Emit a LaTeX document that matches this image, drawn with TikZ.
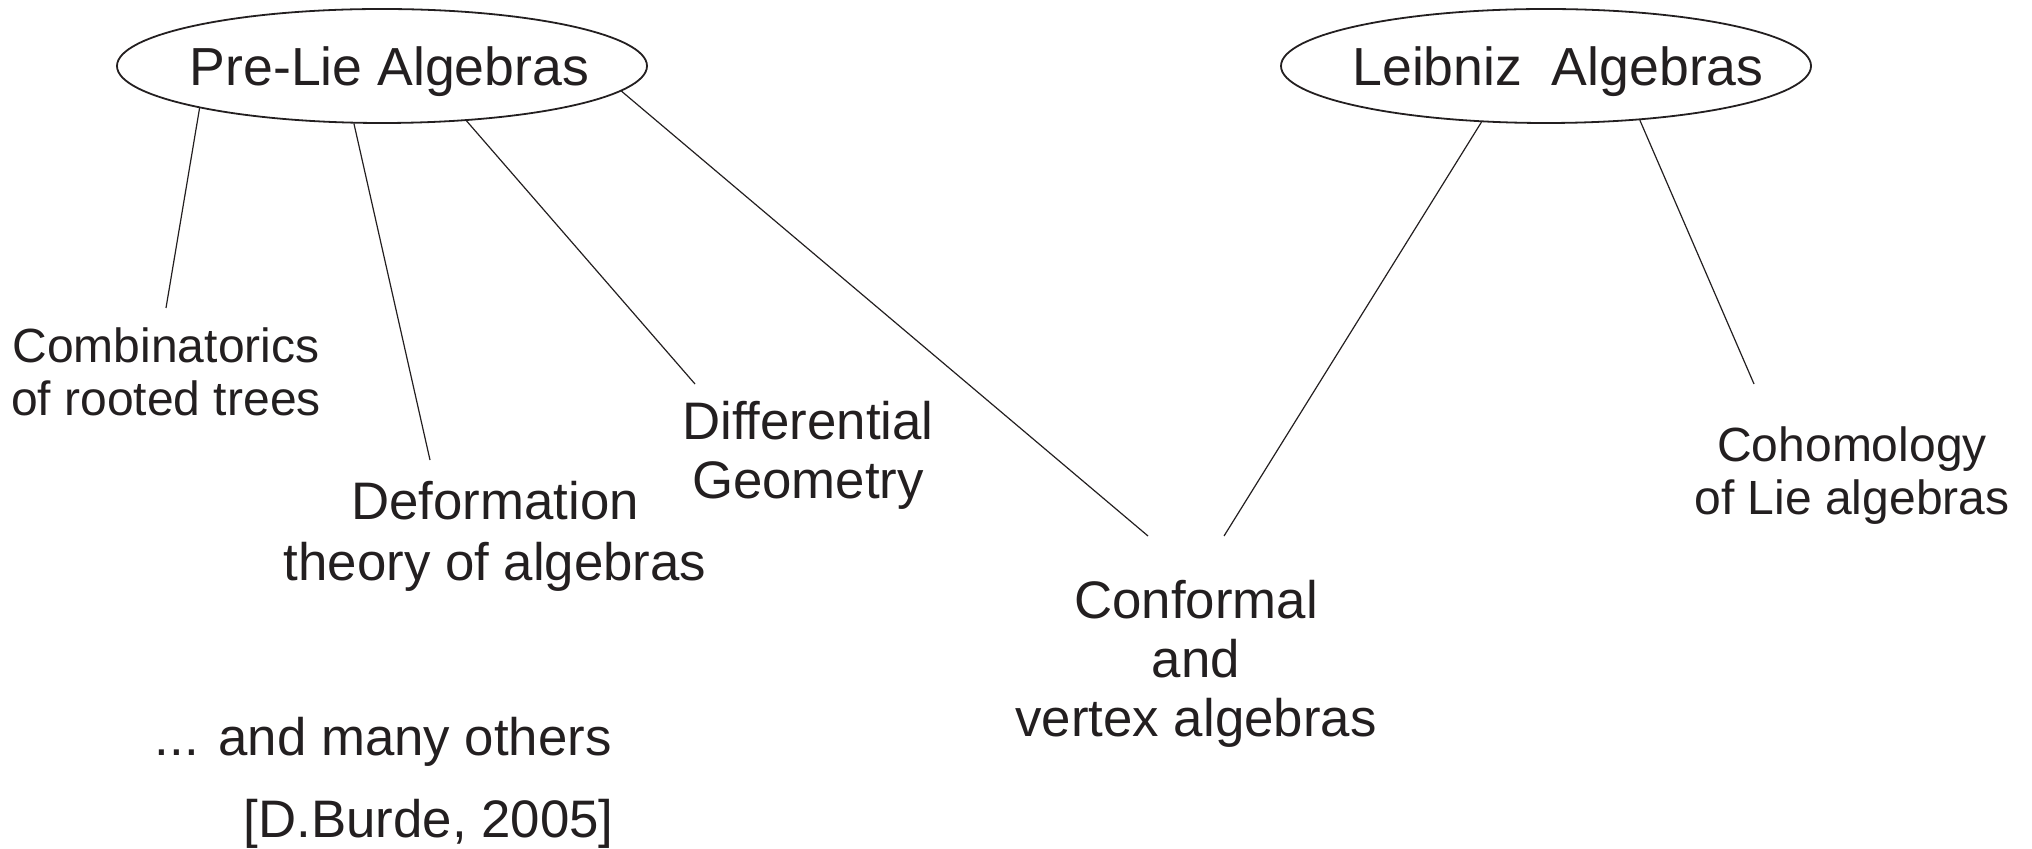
\documentclass[tikz,border=0pt]{standalone}
\usepackage{fontspec}
\setmainfont[Ligatures=NoCommon]{Liberation Sans}
\usetikzlibrary{shapes.geometric}
\definecolor{ink}{HTML}{231F20}
\begin{document}
\begin{tikzpicture}[x=0.5pt, y=-0.5pt, ink,
    field/.style={draw, ellipse, line width=0.9pt, minimum width=265pt,
      minimum height=57pt, inner xsep=-20pt, inner ysep=0pt, text depth=0pt,
      font=\fontsize{26.8}{30}\selectfont},
    topic/.style={align=center, inner sep=0pt, font=\fontsize{26.4}{29.5}\selectfont},
    small/.style={font=\fontsize{24}{26.5}\selectfont},
    link/.style={line width=0.6pt}]
  \useasboundingbox (0,0) rectangle (2032,849);
  % the two families
  \node[field] (prelie) at (382,66) {\hspace*{7.5pt}Pre-Lie Algebras};
  \node[field] (leibniz) at (1546,66) {\hspace*{12pt}Leibniz\ \ Algebras};
  % where they show up
  \node[topic, small] (comb) at (166,372) {Combinatorics\\of rooted trees};
  \node[topic, font=\fontsize{26.4}{30.5}\selectfont] (deform) at (495,536) {Deformation\\theory of algebras};
  \node[topic] (diffgeo) at (808,455) {Differential\\Geometry};
  \node[topic] (conf) at (1196,664) {Conformal\\and\\vertex algebras};
  \node[topic, small] (cohom) at (1852,476) {Cohomology\\of Lie algebras};
  \node[topic, anchor=base east] (others) at (612,755) {... and many others};
  \node[topic, anchor=base east] (burde) at (614,837) {[D.Burde, 2005]};
  % loose ends of the links
  \coordinate (combtop) at (166,308);
  \coordinate (deftop) at (430,460);
  \coordinate (difftop) at (695,384);
  \coordinate (confleft) at (1148,536);
  \coordinate (confright) at (1224,536);
  \coordinate (cohomtop) at (1754,384);
  \draw[link] (prelie.193) -- (combtop);
  \draw[link] (prelie.244) -- (deftop);
  \draw[link] (prelie.327) -- (difftop);
  \draw[link] (prelie.354) -- (confleft);
  \draw[link] (leibniz.221) -- (confright);
  \draw[link] (leibniz.330) -- (cohomtop);
\end{tikzpicture}
\end{document}
